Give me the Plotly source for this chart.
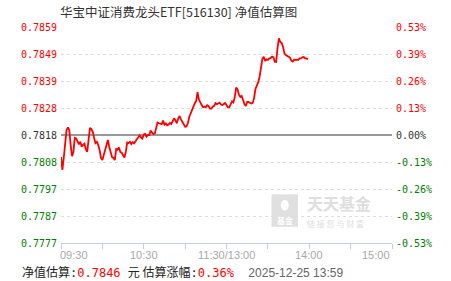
import plotly.graph_objects as go

# ---------------- data ----------------
title_text = "华宝中证消费龙头ETF[516130] 净值估算图"
base_nav = 0.7818
# estimated NAV, one value per trading minute from 09:30 (index 0) to 13:59
nav = [
    0.78096, 0.78046, 0.78092, 0.78153, 0.78199, 0.78209, 0.78199, 0.78142, 0.78099, 0.78115,
    0.78169, 0.78167, 0.78154, 0.78144, 0.78154, 0.78135, 0.78142, 0.78147, 0.78126, 0.78115,
    0.78161, 0.78207, 0.78203, 0.78192, 0.78169, 0.78149, 0.78154, 0.78142, 0.78122, 0.78092,
    0.78084, 0.78103, 0.78130, 0.78149, 0.78161, 0.78134, 0.78115, 0.78096, 0.78092, 0.78084,
    0.78126, 0.78124, 0.78132, 0.78115, 0.78112, 0.78103, 0.78094, 0.78115, 0.78151, 0.78149,
    0.78154, 0.78145, 0.78153, 0.78148, 0.78155, 0.78163, 0.78172, 0.78179, 0.78171, 0.78166,
    0.78182, 0.78184, 0.78174, 0.78180, 0.78180, 0.78197, 0.78189, 0.78184, 0.78186, 0.78207,
    0.78228, 0.78225, 0.78224, 0.78222, 0.78235, 0.78220, 0.78225, 0.78217, 0.78220, 0.78227,
    0.78222, 0.78236, 0.78244, 0.78236, 0.78225, 0.78243, 0.78253, 0.78240, 0.78229, 0.78218,
    0.78212, 0.78213, 0.78225, 0.78249, 0.78263, 0.78273, 0.78286, 0.78302, 0.78310, 0.78344,
    0.78316, 0.78303, 0.78295, 0.78287, 0.78289, 0.78287, 0.78294, 0.78291, 0.78281, 0.78281,
    0.78289, 0.78291, 0.78302, 0.78298, 0.78302, 0.78304, 0.78297, 0.78295, 0.78299, 0.78303,
    0.78295, 0.78286, 0.78286, 0.78295, 0.78309, 0.78305, 0.78326, 0.78362, 0.78355, 0.78335,
    0.78326, 0.78330, 0.78310, 0.78299, 0.78291, 0.78307, 0.78307, 0.78304, 0.78301, 0.78303,
    0.78322, 0.78357, 0.78368, 0.78383, 0.78403, 0.78442, 0.78472, 0.78480, 0.78464, 0.78470,
    0.78468, 0.78474, 0.78475, 0.78481, 0.78479, 0.78461, 0.78460, 0.78514, 0.78551, 0.78537,
    0.78533, 0.78518, 0.78493, 0.78487, 0.78484, 0.78480, 0.78477, 0.78465, 0.78462, 0.78469,
    0.78468, 0.78468, 0.78468, 0.78474, 0.78474, 0.78478, 0.78479, 0.78474, 0.78474, 0.78470,
]
minutes = list(range(len(nav)))

x_tick_minutes = [0, 60, 120, 180, 240]
x_tick_labels = ["09:30", "10:30", "11:30/13:00", "14:00", "15:00"]
x_minor_minutes = [0, 30, 60, 90, 120, 150, 180, 210, 240]

pct_ticks = [-0.53, -0.3975, -0.265, -0.1325, 0.0, 0.1325, 0.265, 0.3975, 0.53]
nav_tick_labels = ["0.7777", "0.7787", "0.7797", "0.7808", "0.7818", "0.7828", "0.7839", "0.7849", "0.7859"]
pct_tick_labels = ["-0.53%", "-0.39%", "-0.26%", "-0.13%", "0.00%", "0.13%", "0.26%", "0.39%", "0.53%"]

est_nav_text = "0.7846"
est_pct_text = "0.36%"
stamp_text = "2025-12-25 13:59"

# ---------------- styling ----------------
RED = "#ff0000"
GREEN = "#008000"
DARK = "#333333"
MONO = "DejaVu Sans Mono"
CJK = "Noto Sans CJK SC"


def colored(lbl, p):
    c = RED if p > 0 else (GREEN if p < 0 else DARK)
    return f"<span style='color:{c}'>{lbl}</span>"


nav_tickvals = [base_nav * (1 + p / 100) for p in pct_ticks]
nav_range = [base_nav * (1 + pct_ticks[0] / 100), base_nav * (1 + pct_ticks[-1] / 100)]
pct_of_nav = [(v / base_nav - 1) * 100 for v in nav]

fig = go.Figure()
fig.add_trace(go.Scatter(x=minutes, y=nav, mode="lines",
                         line=dict(color=RED, width=1.8), hoverinfo="skip",
                         showlegend=False))
fig.add_trace(go.Scatter(x=minutes, y=pct_of_nav, mode="lines", yaxis="y2",
                         line=dict(color="rgba(0,0,0,0)", width=0), hoverinfo="skip",
                         showlegend=False))

fig.update_layout(
    width=451, height=281,
    margin=dict(l=61, r=59, t=27, b=38),
    paper_bgcolor="white", plot_bgcolor="white",
    font=dict(family=MONO, size=10, color=DARK),
    xaxis=dict(range=[0, 240], tickvals=x_minor_minutes,
               ticktext=[""] * len(x_minor_minutes),
               showgrid=False, zeroline=False, showline=True,
               linecolor="#c3d0df", linewidth=1, ticks="outside", ticklen=5,
               tickcolor="#c3d0df", tickwidth=1, fixedrange=True),
    yaxis=dict(range=nav_range, tickvals=nav_tickvals,
               ticktext=[colored(l, p) for l, p in zip(nav_tick_labels, pct_ticks)],
               showgrid=True, gridcolor="#dddddd", griddash="dot", gridwidth=1,
               zeroline=False, showline=False, ticks="",
               tickfont=dict(family=MONO, size=10), ticklabelstandoff=3),
    yaxis2=dict(range=[pct_ticks[0], pct_ticks[-1]], tickvals=pct_ticks,
                ticktext=[colored(l, p) for l, p in zip(pct_tick_labels, pct_ticks)],
                overlaying="y", side="right", showgrid=False,
                zeroline=True, zerolinecolor="#999999", zerolinewidth=1.5,
                showline=False, ticks="", tickfont=dict(family=MONO, size=10),
                ticklabelstandoff=3),
)

annotations = []
# title
annotations.append(dict(xref="paper", yref="paper", x=-0.009, y=1.07,
                        xanchor="left", yanchor="middle", showarrow=False,
                        text=title_text, font=dict(family=CJK, size=12.5, color=DARK)))
# x tick labels
for i, (m, lbl) in enumerate(zip(x_tick_minutes, x_tick_labels)):
    anchor = "left" if i == 0 else ("right" if i == len(x_tick_labels) - 1 else "center")
    annotations.append(dict(xref="x", yref="paper", x=m, y=-0.056, xanchor=anchor,
                            yanchor="middle", showarrow=False, text=lbl,
                            xshift=-3 if i == 0 else 0,
                            font=dict(family="Liberation Sans", size=11, color="#a8a8a8")))
# bottom info line
info = (f"<span style='font-family:{CJK}'>净值估算</span>:"
        f"<span style='color:{RED}'>{est_nav_text}</span> "
        f"<span style='font-family:{CJK}'>元 估算涨幅</span>:"
        f"<span style='color:{RED}'>{est_pct_text}</span>  "
        f"<span style='color:#666666;font-family:Liberation Sans'>{stamp_text}</span>")
annotations.append(dict(xref="paper", yref="paper", x=-0.124, y=-0.13,
                        xanchor="left", yanchor="middle", showarrow=False,
                        text=info, font=dict(family=MONO, size=12, color="#222222")))
# watermark
annotations.append(dict(xref="paper", yref="paper", x=0.737, y=0.185,
                        xanchor="left", yanchor="middle", showarrow=False,
                        text="<b>天天基金</b>", font=dict(family=CJK, size=16, color="#dedede")))
annotations.append(dict(xref="paper", yref="paper", x=0.737, y=0.09,
                        xanchor="left", yanchor="middle", showarrow=False,
                        text="链 接 您 与 财 富", font=dict(family=CJK, size=8, color="#dedede")))
annotations.append(dict(xref="paper", yref="paper", x=0.676, y=0.105,
                        xanchor="center", yanchor="middle", showarrow=False,
                        text="<b>基金</b>", font=dict(family=CJK, size=8, color="white")))
fig.update_layout(annotations=annotations)

fig.add_shape(type="rect", xref="paper", yref="paper",
              x0=0.636, x1=0.716, y0=0.075, y1=0.225,
              fillcolor="#e0e0e0", line=dict(width=0), layer="below")
fig.add_shape(type="circle", xref="paper", yref="paper",
              x0=0.664, x1=0.688, y0=0.15, y1=0.2,
              fillcolor="white", line=dict(width=0), layer="below")

fig.write_html("out.html")
